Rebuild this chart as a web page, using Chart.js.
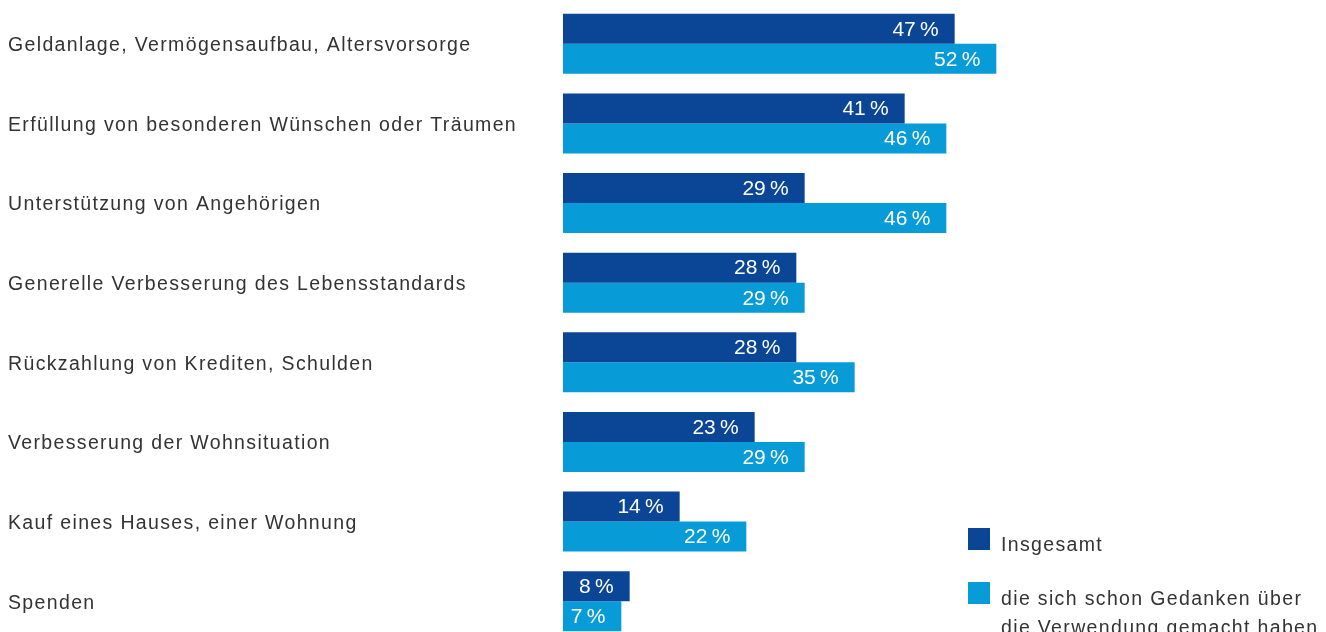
<!DOCTYPE html>
<html>
<head>
<meta charset="utf-8">
<script src="https://cdn.jsdelivr.net/npm/chart.js@4/dist/chart.umd.min.js"></script>
<style>
  html, body { margin: 0; padding: 0; background: #fff; overflow: hidden; }
  #wrap { position: relative; width: 1326px; height: 641px; }
</style>
</head>
<body>
<div id="wrap"><canvas id="chart"></canvas></div>
<script>
// Kategorien und Werte (in %)
const categories = [
    'Geldanlage, Vermögensaufbau, Altersvorsorge',
    'Erfüllung von besonderen Wünschen oder Träumen',
    'Unterstützung von Angehörigen',
    'Generelle Verbesserung des Lebensstandards',
    'Rückzahlung von Krediten, Schulden',
    'Verbesserung der Wohnsituation',
    'Kauf eines Hauses, einer Wohnung',
    'Spenden'
];
const insgesamt = [47, 41, 29, 28, 28, 23, 14, 8];
const mitGedanken = [52, 46, 46, 29, 35, 29, 22, 7];
const seriesLabels = [
    ['Insgesamt'],
    ['die sich schon Gedanken über', 'die Verwendung gemacht haben']
];
const colors = ['#0b4595', '#079bd8'];

const FONT = '"Liberation Sans", Arial, sans-serif';
const TRACKING = '1.35px';

// etwas gesperrte Schrift für die Achsenbeschriftung
const tracking = {
    id: 'tracking',
    beforeDraw(chart) { chart.ctx.letterSpacing = TRACKING; },
    afterDraw(chart) { chart.ctx.letterSpacing = '0px'; }
};

// Werte-Beschriftung in den Balken
const valueLabels = {
    id: 'valueLabels',
    afterDatasetsDraw(chart) {
        const ctx = chart.ctx;
        ctx.save();
        ctx.letterSpacing = '0px';
        ctx.font = '21px ' + FONT;
        ctx.fillStyle = '#ffffff';
        ctx.textAlign = 'right';
        ctx.textBaseline = 'middle';
        chart.data.datasets.forEach((ds, i) => {
            chart.getDatasetMeta(i).data.forEach((bar, j) => {
                ctx.fillText(ds.data[j] + '\u2009%', bar.x - 16, bar.y + 1);
            });
        });
        ctx.restore();
    }
};

// Legende unten rechts
const legendBox = {
    id: 'legendBox',
    afterDraw(chart) {
        const ctx = chart.ctx;
        ctx.save();
        ctx.letterSpacing = TRACKING;
        ctx.font = '19.5px ' + FONT;
        ctx.textBaseline = 'alphabetic';
        const x = 968, tops = [528, 582];
        chart.data.datasets.forEach((ds, i) => {
            ctx.fillStyle = ds.backgroundColor;
            ctx.fillRect(x, tops[i], 22, 22);
            ctx.fillStyle = '#333333';
            seriesLabels[i].forEach((line, k) => {
                ctx.fillText(line, x + 33, tops[i] + 23 + k * 29);
            });
        });
        ctx.restore();
    }
};

new Chart(document.getElementById('chart').getContext('2d'), {
    type: 'bar',
    data: {
        labels: categories,
        datasets: [{
            label: seriesLabels[0].join(' '),
            data: insgesamt,
            backgroundColor: colors[0],
            categoryPercentage: 0.755,
            barPercentage: 1.0
        }, {
            label: seriesLabels[1].join(' '),
            data: mitGedanken,
            backgroundColor: colors[1],
            categoryPercentage: 0.755,
            barPercentage: 1.0
        }]
    },
    options: {
        indexAxis: 'y',
        responsive: true,
        maintainAspectRatio: false,
        animation: false,
        layout: { padding: { left: 8, right: 13, top: 4, bottom: 0 } },
        scales: {
            x: {
                display: false,
                min: 0,
                max: 90
            },
            y: {
                grid: { display: false },
                border: { display: false },
                afterFit: (scale) => {
                    scale.width = 555;
                    scale.paddingTop = 0;
                    scale.paddingBottom = 0;
                },
                ticks: {
                    crossAlign: 'far',
                    color: '#333333',
                    font: { family: FONT, size: 19.5 },
                    padding: 0,
                    labelOffset: 2
                }
            }
        },
        plugins: {
            legend: { display: false },
            tooltip: { enabled: false }
        }
    },
    plugins: [tracking, valueLabels, legendBox]
});
</script>
</body>
</html>
